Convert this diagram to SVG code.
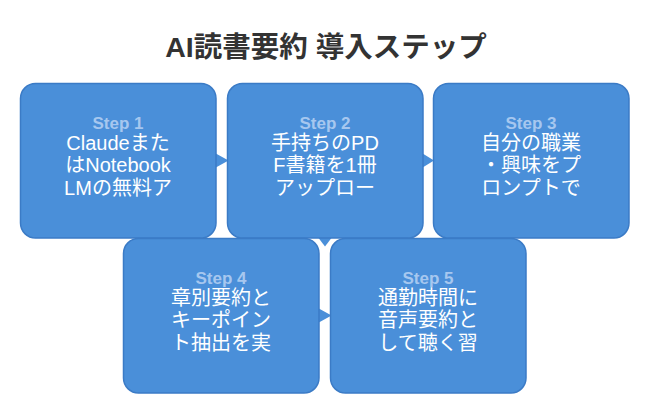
<svg xmlns="http://www.w3.org/2000/svg" width="650" height="415" viewBox="0 0 650 415">
<style>
.box{fill:#4a8fd9;stroke:#3b7bc6;stroke-width:1.5}
.arr{fill:#4a8fd9;stroke:none}
.title{font-family:"Liberation Sans","Noto Sans CJK JP",sans-serif;font-size:28.5px;font-weight:bold;fill:#333333;text-anchor:middle}
.step{font-family:"Liberation Sans","Noto Sans CJK JP",sans-serif;font-size:17px;font-weight:bold;fill:#a6c7ef;text-anchor:middle}
.txt{font-family:"Liberation Sans","Noto Sans CJK JP",sans-serif;font-size:20px;fill:#ffffff;text-anchor:middle}
</style>
<rect width="650" height="415" fill="#ffffff"/>
<text class="title" x="326" y="57">AI読書要約 導入ステップ</text>
<g id="connectors">
<polygon class="arr" points="214,152.5 228.5,160.5 214,168.5"/>
<polygon class="arr" points="421,152.5 434,160.5 421,168.5"/>
<polygon class="arr" points="317,236 325,246.5 333,236"/>
<polygon class="arr" points="317,307.5 331.5,315.5 317,323.5"/>
</g>
<g id="step1">
<rect class="box" x="20.5" y="83.5" width="195.5" height="154.5" rx="15"/>
<text class="step" x="118" y="128.5">Step 1</text>
<text class="txt" x="118" y="149.5">Claudeまた</text>
<text class="txt" x="118" y="172">はNotebook</text>
<text class="txt" x="118" y="194.5">LMの無料ア</text>
</g>
<g id="step2">
<rect class="box" x="227.5" y="83.5" width="195.5" height="154.5" rx="15"/>
<text class="step" x="325" y="128.5">Step 2</text>
<text class="txt" x="325" y="149.5">手持ちのPD</text>
<text class="txt" x="325" y="172">F書籍を1冊</text>
<text class="txt" x="325" y="194.5">アップロー</text>
</g>
<g id="step3">
<rect class="box" x="433.5" y="83.5" width="195.5" height="154.5" rx="15"/>
<text class="step" x="531" y="128.5">Step 3</text>
<text class="txt" x="531" y="149.5">自分の職業</text>
<text class="txt" x="531" y="172">・興味をプ</text>
<text class="txt" x="531" y="194.5">ロンプトで</text>
</g>
<g id="step4">
<rect class="box" x="123.5" y="238.5" width="195.5" height="154.5" rx="15"/>
<text class="step" x="221" y="283.5">Step 4</text>
<text class="txt" x="221" y="304.5">章別要約と</text>
<text class="txt" x="221" y="327">キーポイン</text>
<text class="txt" x="221" y="349.5">ト抽出を実</text>
</g>
<g id="step5">
<rect class="box" x="330.5" y="238.5" width="195.5" height="154.5" rx="15"/>
<text class="step" x="428" y="283.5">Step 5</text>
<text class="txt" x="428" y="304.5">通勤時間に</text>
<text class="txt" x="428" y="327">音声要約と</text>
<text class="txt" x="428" y="349.5">して聴く習</text>
</g>
</svg>
